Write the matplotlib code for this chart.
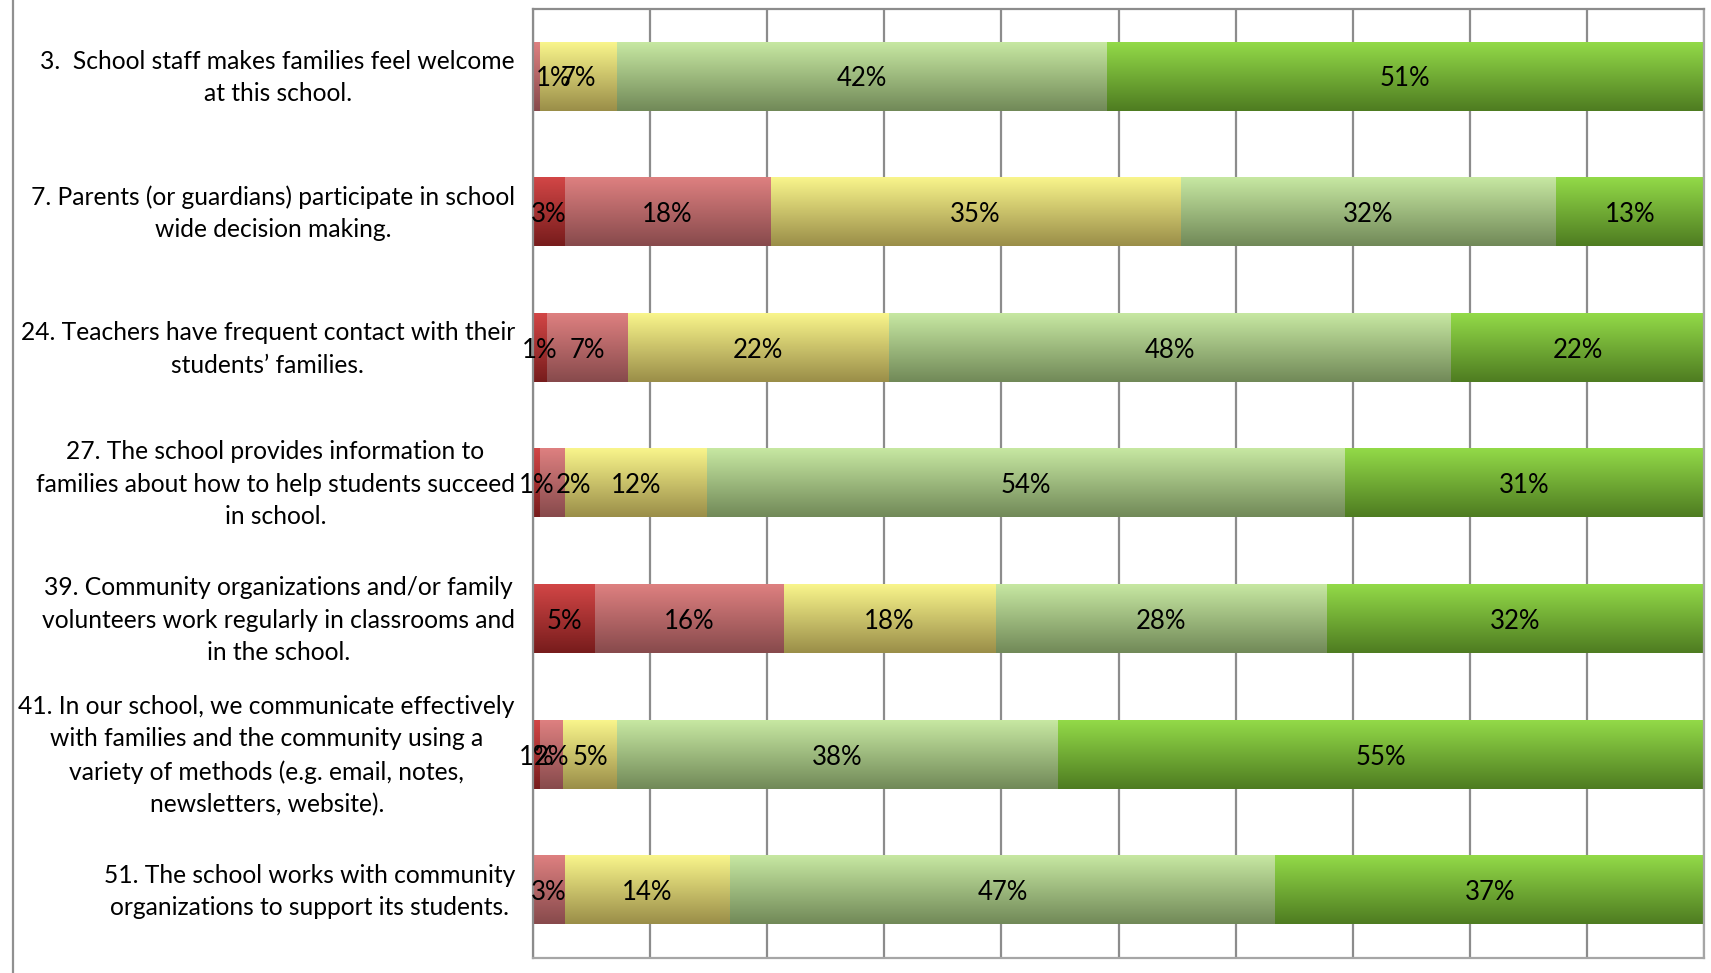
import numpy as np
import matplotlib
matplotlib.use("Agg")
import matplotlib.pyplot as plt
import matplotlib.transforms as mtransforms
from matplotlib.lines import Line2D

plt.rcParams['font.family'] = ['Lato', 'DejaVu Sans']

# Survey items (top to bottom)
questions = [
    "3.  School staff makes families feel welcome\nat this school.",
    "7. Parents (or guardians) participate in school\nwide decision making.",
    "24. Teachers have frequent contact with their\nstudents\u2019 families.",
    "27. The school provides information to\nfamilies about how to help students succeed\nin school.",
    "39. Community organizations and/or family\nvolunteers work regularly in classrooms and\nin the school.",
    "41. In our school, we communicate effectively\nwith families and the community using a\nvariety of methods (e.g. email, notes,\nnewsletters, website).",
    "51. The school works with community\norganizations to support its students.",
]

# Share of responses (%) per answer level, one value per item
strongly_disagree = [0.0, 2.7, 1.2, 0.6, 5.3, 0.6, 0.0]
disagree          = [0.6, 17.6, 6.9, 2.1, 16.1, 2.0, 2.7]
neutral           = [6.6, 35.0, 22.3, 12.2, 18.1, 4.6, 14.1]
agree             = [41.8, 32.1, 48.0, 54.4, 28.3, 37.6, 46.6]
strongly_agree    = [51.0, 12.6, 21.6, 30.7, 32.2, 55.2, 36.6]

series = [strongly_disagree, disagree, neutral, agree, strongly_agree]

# top / bottom colours of the vertical gradient fill for each answer level
gradients = [
    ("#D24646", "#771C1C"),
    ("#DE8080", "#874A4C"),
    ("#F9F58C", "#9A8E48"),
    ("#C7E8A2", "#718958"),
    ("#93DA48", "#4E7C21"),
]

# small labels pushed sideways (points) so they stay readable: (series, row)
label_nudge = {(1, 0): 12, (1, 3): 15}

W, H, DPI = 1711, 973, 100
fig = plt.figure(figsize=(W / DPI, H / DPI), dpi=DPI)
ax = fig.add_axes([533 / W, 1 - 958 / H, (1704 - 533) / W, (958 - 8.5) / H])

y = np.arange(len(questions))
left = np.zeros(len(questions))


def gradient_image(top, bottom, n=128):
    c0 = np.array(matplotlib.colors.to_rgb(top))
    c1 = np.array(matplotlib.colors.to_rgb(bottom))
    t = np.linspace(0, 1, n)[:, None]
    return (c0 * (1 - t) + c1 * t)[:, None, :]


for si, (vals, (ctop, cbot)) in enumerate(zip(series, gradients)):
    vals = np.asarray(vals)
    bars = ax.barh(y, vals, left=left, height=0.505, color="none",
                   edgecolor="none", zorder=3)
    img = gradient_image(ctop, cbot)
    for p in bars.patches:
        if p.get_width() <= 0:
            continue
        x0, y0, w, h = p.get_x(), p.get_y(), p.get_width(), p.get_height()
        ax.imshow(img, extent=(x0, x0 + w, y0 + h, y0), origin="upper",
                  aspect="auto", interpolation="bilinear", zorder=2)
    labels = [f"{v:.0f}%" if v > 0 else "" for v in vals]
    texts = ax.bar_label(bars, labels=labels, label_type="center",
                         fontsize=18.5, color="black", zorder=4)
    for ri, t in enumerate(texts):
        t.set_va("center_baseline")
        if (si, ri) in label_nudge:
            t.xyann = (label_nudge[(si, ri)], 0)
    left += vals

ax.set_xlim(0, 100)
ax.set_ylim(len(questions) - 0.5, -0.5)

ax.set_xticks(np.arange(0, 101, 10))
ax.set_xticklabels([])
ax.tick_params(axis="x", length=0)
ax.xaxis.grid(True, color="#8C8C8C", linewidth=1.6, zorder=0)
ax.set_axisbelow(True)

ax.set_yticks(y)
ax.set_yticklabels(questions, fontsize=17.7, multialignment="center",
                   linespacing=1.5)
ax.tick_params(axis="y", length=0, pad=13)
shift = mtransforms.ScaledTranslation(0, 4 / 72, fig.dpi_scale_trans)
for lab in ax.get_yticklabels():
    lab.set_transform(lab.get_transform() + shift)

for side, sp in ax.spines.items():
    sp.set_color("#8C8C8C")
    sp.set_linewidth(1.6)
ax.spines["right"].set_color("#A6A6A6")
ax.spines["bottom"].set_color("#A6A6A6")

# outer chart border on the left
fig.add_artist(Line2D([12.5 / W, 12.5 / W], [0, 1], transform=fig.transFigure,
                      color="#909090", linewidth=1.6))

fig.savefig("out.png", dpi=DPI)
